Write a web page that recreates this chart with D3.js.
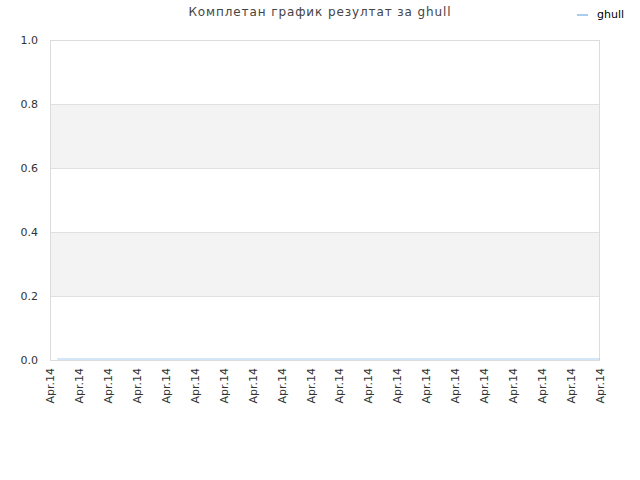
<!DOCTYPE html>
<html><head><meta charset="utf-8">
<script src="https://cdn.jsdelivr.net/npm/d3@7"></script>
<style>body{margin:0;background:#fff;}svg{display:block;font-family:"DejaVu Sans",sans-serif;}</style>
</head><body>
<script>
const title = "Комплетан график резултат за ghull";
const seriesName = "ghull";
const categories = Array.from({length:20}, () => "Apr.14");
const yTicks = [0, 0.2, 0.4, 0.6, 0.8, 1.0];
const seriesX = [0.25, 19];
const seriesY = [0, 0];

const W = 640, H = 480;
const m = {l:50, r:40, t:40, b:120};
const svg = d3.select("body").append("svg").attr("width", W).attr("height", H);
const x = d3.scaleLinear().domain([0, categories.length - 1]).range([m.l, W - m.r]);
const y = d3.scaleLinear().domain([0, 1]).range([H - m.b, m.t]);

// bands
const bands = [[0.2,0.4],[0.6,0.8]];
svg.selectAll("rect.band").data(bands).enter().append("rect")
  .attr("x", m.l).attr("width", W - m.r - m.l)
  .attr("y", d => y(d[1])).attr("height", d => y(d[0]) - y(d[1]))
  .attr("fill", "#f3f3f3");
// gridlines
svg.selectAll("line.grid").data(yTicks).enter().append("line")
  .attr("x1", m.l).attr("x2", W - m.r)
  .attr("y1", d => Math.round(y(d)) + 0.5).attr("y2", d => Math.round(y(d)) + 0.5)
  .attr("stroke", "#e0e0e0");
// border
svg.append("rect").attr("x", m.l + 0.5).attr("y", m.t + 0.5)
  .attr("width", W - m.r - m.l - 1).attr("height", H - m.b - m.t)
  .attr("fill", "none").attr("stroke", "#dcdcdc");

// y labels
svg.selectAll("text.yl").data(yTicks).enter().append("text")
  .attr("x", m.l - 12).attr("y", d => y(d) + 4)
  .attr("text-anchor", "end").attr("font-size", 11).attr("fill", "#333")
  .text(d => d.toFixed(1));

// x labels
svg.selectAll("text.xl").data(categories).enter().append("text")
  .attr("transform", (d, i) => `translate(${x(i) + 4},${H - m.b + 8}) rotate(-90)`)
  .attr("text-anchor", "end").attr("font-size", 11).attr("fill", "#333")
  .text(d => d);

// series line
const line = d3.line().x(d => x(d[0])).y(d => y(d[1]) - 1);
svg.append("path").datum(seriesX.map((v, i) => [v, seriesY[i]]))
  .attr("d", line).attr("fill", "none").attr("stroke", "#a8cdf0").attr("stroke-width", 1);

// title
svg.append("text").attr("x", 320).attr("y", 16).attr("text-anchor", "middle")
  .attr("font-size", 12).attr("letter-spacing", 0.9).attr("fill", "#444").text(title);

// legend
svg.append("line").attr("x1", 577).attr("x2", 588).attr("y1", 15).attr("y2", 15)
  .attr("stroke", "#a8cdf0").attr("stroke-width", 2);
svg.append("text").attr("x", 597).attr("y", 18).attr("font-size", 11).attr("fill", "#000").text(seriesName);
</script>
</body></html>
